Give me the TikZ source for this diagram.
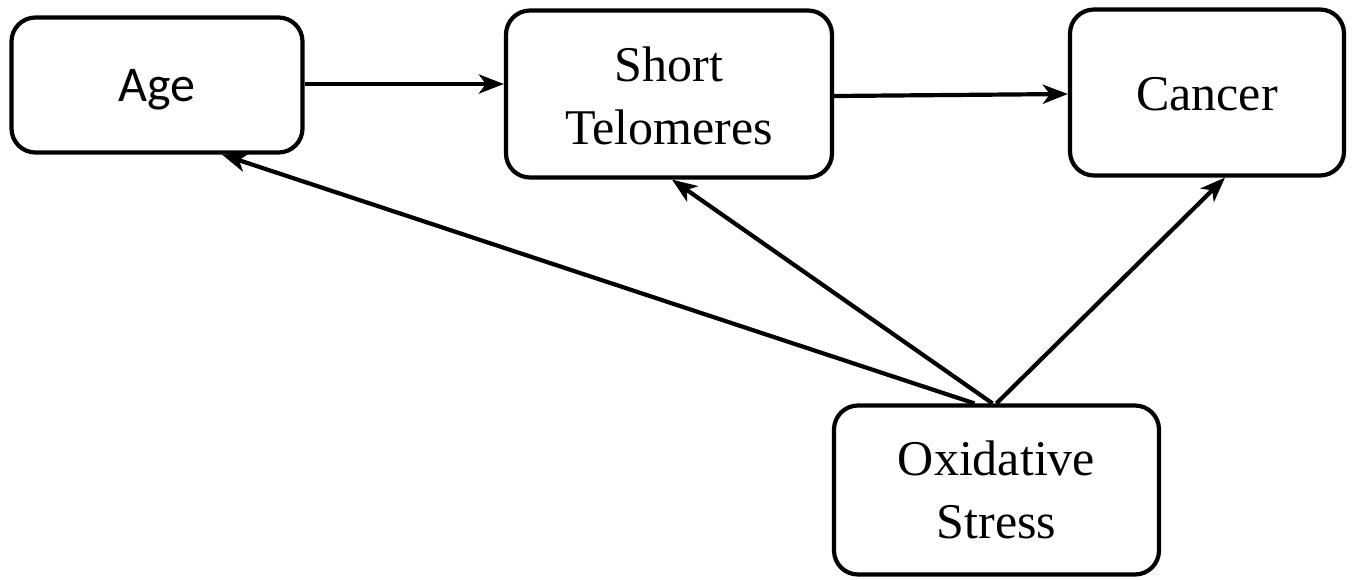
\documentclass[tikz,border=0pt]{standalone}
\usepackage{fontspec}
\setmainfont{Liberation Serif}
\newfontfamily\calib{Carlito}
\usetikzlibrary{arrows.meta}
\newcommand{\lowerby}[2]{\raisebox{-#1}[\height][\depth]{#2}}
\tikzset{
  box/.style={draw=black, line width=4.2pt, rounded corners=24pt, fill=white, align=center, inner sep=0pt, font=\fontsize{50}{63}\selectfont},
  conn/.style={line width=4.2pt, -{Stealth[length=25pt,width=19pt,inset=7pt]}}
}
\begin{document}
\begin{tikzpicture}[x=1pt,y=-1pt]
\useasboundingbox (0,0) rectangle (1355,579);
\node[box, minimum width=291pt, minimum height=135pt, font=\calib\fontsize{50}{60}\selectfont] (age) at (157,85) {\lowerby{5pt}{Age}};
\node[box, minimum width=326pt, minimum height=167pt] (st) at (669,94) {\lowerby{2pt}{Short}\\\lowerby{2pt}{Telomeres}};
\node[box, minimum width=274pt, minimum height=166pt] (ca) at (1207,92.5) {\lowerby{1.5pt}{Cancer}};
\node[box, minimum width=325pt, minimum height=169pt] (ox) at (996.5,490) {Oxidative\\Stress};
\coordinate (o1) at ([xshift=-22pt]ox.north);
\coordinate (o2) at ([xshift=-4pt]ox.north);
\coordinate (o3) at ([xshift=0pt]ox.north);
\draw[conn] (age.east |- 0,84) -- (st.west |- 0,84);
\draw[conn] (st.east |- 0,96) -- (ca.west |- 0,94);
\draw[conn] (o1) -- ([xshift=65pt]age.south);
\draw[conn] (o2) -- ([xshift=3pt]st.south);
\draw[conn] (o3) -- ([xshift=18pt]ca.south);
\end{tikzpicture}
\end{document}
